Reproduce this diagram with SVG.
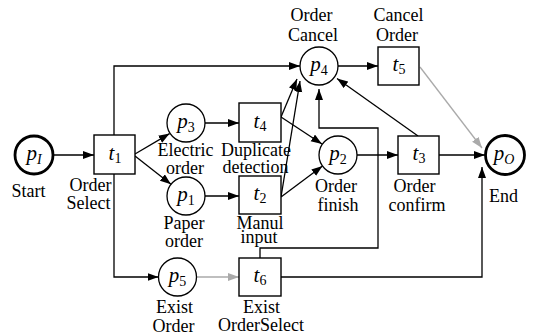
<svg xmlns="http://www.w3.org/2000/svg" width="536" height="334" viewBox="0 0 536 334">
<style>
.pl{fill:#fff;stroke:#000;stroke-width:1.3}
.pt{fill:#fff;stroke:#000;stroke-width:2.8}
.tr{fill:#fff;stroke:#000;stroke-width:1.4}
.c{fill:none;stroke:#000;stroke-width:1.3;marker-end:url(#ab)}
.g{fill:none;stroke:#aaa;stroke-width:1.3;marker-end:url(#ag)}
.n{fill:none;stroke:#000;stroke-width:1.3}
text{font-family:"Liberation Serif","Times New Roman",serif;font-size:18px;fill:#000;text-anchor:middle}
.v{font-size:21px;font-style:italic}
.s{font-size:14px}
.si{font-size:14px;font-style:italic}
</style>
<defs>
<marker id="ab" markerUnits="userSpaceOnUse" markerWidth="12" markerHeight="9" refX="11" refY="4" orient="auto"><path d="M0,0 L11,4 L0,8 Z" fill="#000"/></marker>
<marker id="ag" markerUnits="userSpaceOnUse" markerWidth="12" markerHeight="9" refX="11" refY="4" orient="auto"><path d="M0,0 L11,4 L0,8 Z" fill="#aaa"/></marker>
</defs>
<g id="connectors">
<path class="c" d="M53.5,155 H94"/>
<path class="c" d="M135,154 L169.6,133.6"/>
<path class="c" d="M135,156 L171,184.3"/>
<path class="c" d="M114,135 V66 H300"/>
<path class="c" d="M114,174 V277 H158.5"/>
<path class="c" d="M205,123 H239"/>
<path class="c" d="M205,196 H239"/>
<path class="c" d="M281,117 L297,79"/>
<path class="c" d="M281,197 L300,81"/>
<path class="c" d="M281,117 L322,144"/>
<path class="c" d="M281,197 L322.5,166"/>
<path class="c" d="M357,155 H398"/>
<path class="c" d="M439,155 H485"/>
<path class="c" d="M418,136 L337,78.5"/>
<path class="c" d="M338,66 H378"/>
<path class="g" d="M420,67 L482,148"/>
<path class="g" d="M196.5,277 H239"/>
<path class="c" d="M281,277 H482 V167"/>
<path class="c" d="M260,258 V248 H378 V128 H319 V89"/>
</g>
<g id="pI"><circle class="pt" cx="34" cy="155" r="19"/><text x="34" y="160"><tspan class="v">p</tspan><tspan class="si" dy="4">I</tspan></text><text x="28.5" y="197">Start</text></g>
<g id="t1"><rect class="tr" x="94" y="135" width="41" height="39"/><text x="115" y="160"><tspan class="v">t</tspan><tspan class="s" dy="3">1</tspan></text><text x="90.5" y="191">Order</text><text x="88.5" y="208.5">Select</text></g>
<g id="p3"><circle class="pl" cx="186" cy="123" r="19"/><text x="186" y="128"><tspan class="v">p</tspan><tspan class="s" dy="4">3</tspan></text><text x="185.5" y="156">Electric</text><text x="185" y="173.5">order</text></g>
<g id="p1"><circle class="pl" cx="186" cy="196" r="19"/><text x="186" y="201"><tspan class="v">p</tspan><tspan class="s" dy="4">1</tspan></text><text x="184" y="228.5">Paper</text><text x="184" y="246.5">order</text></g>
<g id="t4"><rect class="tr" x="239" y="103" width="42" height="39"/><text x="260" y="128"><tspan class="v">t</tspan><tspan class="s" dy="3">4</tspan></text><text x="256" y="156">Duplicate</text><text x="255.5" y="173">detection</text></g>
<g id="t2"><rect class="tr" x="239" y="176" width="42" height="38"/><text x="260" y="200"><tspan class="v">t</tspan><tspan class="s" dy="3">2</tspan></text><text x="260" y="228.5">Manul</text><text x="259" y="242.5">input</text></g>
<g id="p4"><circle class="pl" cx="319" cy="66" r="19"/><text x="319" y="71"><tspan class="v">p</tspan><tspan class="s" dy="4">4</tspan></text><text x="311.5" y="21">Order</text><text x="313" y="40.5">Cancel</text></g>
<g id="t5"><rect class="tr" x="378" y="47" width="41" height="38"/><text x="399" y="71"><tspan class="v">t</tspan><tspan class="s" dy="3">5</tspan></text><text x="398.5" y="21">Cancel</text><text x="397" y="40.5">Order</text></g>
<g id="p2"><circle class="pl" cx="338" cy="155" r="19"/><text x="338" y="160"><tspan class="v">p</tspan><tspan class="s" dy="4">2</tspan></text><text x="336" y="191.5">Order</text><text x="338" y="210.5">finish</text></g>
<g id="t3"><rect class="tr" x="398" y="136" width="41" height="38"/><text x="419" y="160"><tspan class="v">t</tspan><tspan class="s" dy="3">3</tspan></text><text x="414.5" y="191.5">Order</text><text x="417" y="211">confirm</text></g>
<g id="pO"><circle class="pt" cx="505" cy="155" r="19.5"/><text x="504" y="160"><tspan class="v">p</tspan><tspan class="si" dy="4">O</tspan></text><text x="503.5" y="201.5">End</text></g>
<g id="p5"><circle class="pl" cx="177.5" cy="277" r="19"/><text x="177.5" y="282"><tspan class="v">p</tspan><tspan class="s" dy="4">5</tspan></text><text x="174.5" y="313">Exist</text><text x="173.5" y="331.5">Order</text></g>
<g id="t6"><rect class="tr" x="239" y="258" width="42" height="38"/><text x="260" y="282"><tspan class="v">t</tspan><tspan class="s" dy="3">6</tspan></text><text x="261.5" y="312.5">Exist</text><text x="261" y="331">OrderSelect</text></g>
</svg>
